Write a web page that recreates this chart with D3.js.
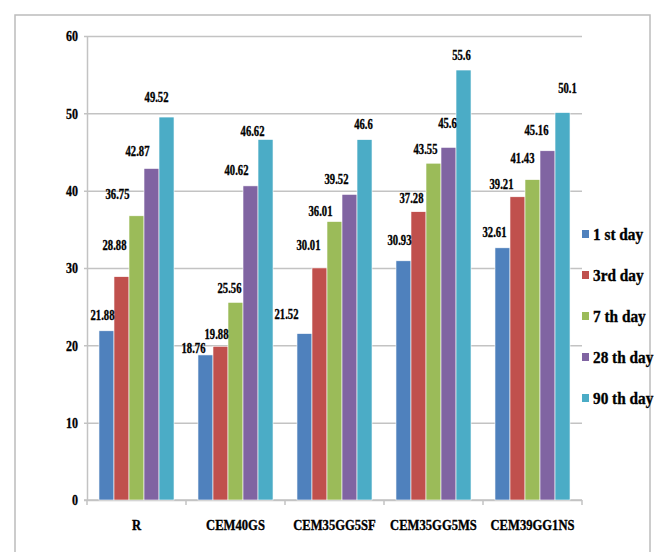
<!DOCTYPE html>
<html>
<head>
<meta charset="utf-8">
<script src="https://cdn.jsdelivr.net/npm/d3@7/dist/d3.min.js"></script>
<style>
    body { margin: 0; background: #fff; }
    text { font-family: "Liberation Serif", "Times New Roman", serif; font-weight: bold;
           fill: #000; stroke: #000; stroke-width: 0.35; }
</style>
</head>
<body>
<div id="chart"></div>
<script>

// chart data
var categories = ["R", "CEM40GS", "CEM35GG5SF", "CEM35GG5MS", "CEM39GG1NS"];
var seriesNames = ["1 st day", "3rd day", "7 th day", "28 th day", "90 th day"];
var day1 = [21.88, 18.76, 21.52, 30.93, 32.61];
var day3 = [28.88, 19.88, 30.01, 37.28, 39.21];
var day7 = [36.75, 25.56, 36.01, 43.55, 41.43];
var day28 = [42.87, 40.62, 39.52, 45.6, 45.16];
var day90 = [49.52, 46.62, 46.6, 55.6, 50.1];
var yTicks = [0, 10, 20, 30, 40, 50, 60];

// core settings
var cfg = {
    w: 662, h: 552,
    left: 87, right: 582, top: 36, bottom: 500, // plot box
    colors: ["#4f81bd", "#c0504d", "#9bbb59", "#8064a2", "#4bacc6"],
    grid: "#c3c3c3",
    squeeze: 0.76, // horizontal squeeze of value labels
    // hand-placed data label nudges (px), rows = series, cols = category
    labelDx: [[-4, -12, -18, -4, -8], [-7, -4, -11, -7, -16], [-19, -6, -14, -8, -10],
        [-14, -14, -13, -1, -11], [-10, -13, -1, -2, 5]],
    labelDy: [[-15, -6, -19, -20, -15], [-31, -12, -22, -13, -12], [-21, -14, -10, -14, -21],
        [-17, -15, -15, -24, -20], [-20, -8, -15, -15, -24]]
};

var series = [day1, day3, day7, day28, day90];

// squeezed text helper
function place(sel, x, y, sx) {
    return sel.attr("transform", "translate(" + x + "," + y + ") scale(" + sx + ",1)");
}

var svg = d3.select("#chart").append("svg")
        .attr("width", cfg.w).attr("height", cfg.h);

// outer frame
svg.append("rect").attr("x", 15).attr("y", 15).attr("width", 635).attr("height", 560)
        .attr("fill", "none").attr("stroke", "#bcbcbc").attr("stroke-width", 1.5);

// scales
var x0 = d3.scaleBand().domain(categories).range([cfg.left, cfg.right])
        .paddingInner(0.242).paddingOuter(0.121);
var x1 = d3.scaleBand().domain(d3.range(seriesNames.length)).range([0, x0.bandwidth()]);
var y = d3.scaleLinear().domain([0, 60]).range([cfg.bottom, cfg.top]);

// y axis with gridlines
var yaxis = d3.axisLeft(y).tickValues(yTicks).tickSize(-(cfg.right - cfg.left)).tickSizeOuter(0);
var gy = svg.append("g").attr("transform", "translate(" + cfg.left + ",0)").call(yaxis);
gy.select("path.domain").attr("d", "M0.5," + cfg.bottom + "V" + cfg.top)
        .attr("stroke", cfg.grid).attr("stroke-width", 1.5);
gy.selectAll(".tick line").attr("x1", -3).attr("stroke", cfg.grid).attr("stroke-width", 1.5);
gy.selectAll(".tick text").each(function (d) {
    var t = d3.select(this).attr("x", null).attr("dy", null)
            .attr("font-size", 15).attr("text-anchor", "end").attr("dominant-baseline", "central")
            .attr("font-family", null).attr("fill", null);
    place(t, -9, 0, 0.8);
});

// x axis line with boundary ticks
svg.append("line").attr("x1", cfg.left - 3).attr("x2", cfg.right)
        .attr("y1", cfg.bottom).attr("y2", cfg.bottom)
        .attr("stroke", cfg.grid).attr("stroke-width", 1.5);
svg.selectAll(".xtick").data(d3.range(categories.length + 1)).enter().append("line")
        .attr("x1", function (k) { return cfg.left + k * x0.step(); })
        .attr("x2", function (k) { return cfg.left + k * x0.step(); })
        .attr("y1", cfg.bottom).attr("y2", cfg.bottom + 5)
        .attr("stroke", cfg.grid).attr("stroke-width", 1.5);

// category labels
svg.selectAll(".xlab").data(categories).enter().append("text")
        .text(function (d) { return d; })
        .attr("font-size", 15).attr("text-anchor", "middle").attr("dominant-baseline", "central")
        .each(function (d) {
            place(d3.select(this), x0(d) + x0.bandwidth() / 2, 525, 0.84);
        });

// flatten data for bars
var bars = [];
series.forEach(function (vals, j) {
    vals.forEach(function (v, i) {
        bars.push({cat: categories[i], i: i, j: j, value: v});
    });
});

// bars
svg.selectAll(".bar").data(bars).enter().append("rect")
        .attr("x", function (d) { return x0(d.cat) + x1(d.j); })
        .attr("width", x1.bandwidth())
        .attr("y", function (d) { return y(d.value); })
        .attr("height", function (d) { return y(0) - y(d.value); })
        .attr("fill", function (d) { return cfg.colors[d.j]; })
        .attr("stroke", "#fff").attr("stroke-width", 0.6);

// value labels
svg.selectAll(".vlab").data(bars).enter().append("text")
        .text(function (d) { return d.value; })
        .attr("font-size", 14).attr("text-anchor", "middle").attr("dominant-baseline", "central")
        .each(function (d) {
            var cx = x0(d.cat) + x1(d.j) + x1.bandwidth() / 2 + cfg.labelDx[d.j][d.i];
            var cy = y(d.value) + cfg.labelDy[d.j][d.i];
            place(d3.select(this), cx, cy, cfg.squeeze);
        });

// legend
var lg = svg.selectAll(".legend").data(seriesNames).enter().append("g")
        .attr("transform", function (d, j) { return "translate(582," + (234 + j * 41) + ")"; });
lg.append("rect").attr("x", 0).attr("y", -4).attr("width", 7).attr("height", 8)
        .attr("fill", function (d, j) { return cfg.colors[j]; });
lg.append("text").text(function (d) { return d; })
        .attr("font-size", 17).attr("dominant-baseline", "central")
        .each(function () { place(d3.select(this), 11, 0, 0.9); });

</script>
</body>
</html>
